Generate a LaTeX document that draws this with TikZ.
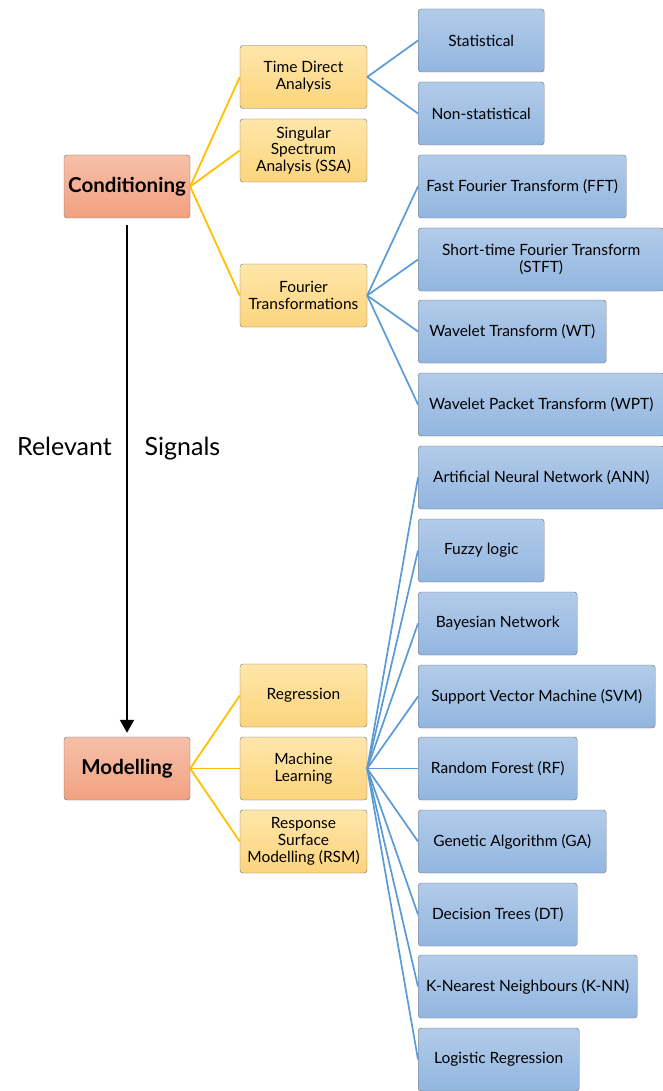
\documentclass[tikz,border=0pt]{standalone}
\usepackage{fontspec}
\setmainfont{Lato}
\usetikzlibrary{arrows.meta, positioning, shadings}
\definecolor{salmonTop}{RGB}{246, 192, 168}
\definecolor{salmonBottom}{RGB}{242, 160, 128}
\definecolor{amberTop}{RGB}{254, 230, 170}
\definecolor{amberBottom}{RGB}{252, 212, 124}
\definecolor{skyTop}{RGB}{178, 203, 233}
\definecolor{skyBottom}{RGB}{146, 182, 224}
\definecolor{borderGray}{RGB}{110, 110, 110}
\definecolor{amberLine}{RGB}{255, 192, 0}
\definecolor{skyLine}{RGB}{91, 155, 213}
\begin{document}
\begin{tikzpicture}[
    x=1pt, y=-1pt,
    stage/.style={
        rectangle,
        rounded corners=3pt,
        minimum width=126pt,
        minimum height=63pt,
        draw=borderGray,
        top color=salmonTop,
        bottom color=salmonBottom,
        font=\fontsize{20.5}{23}\selectfont\bfseries
    },
    method/.style={
        rectangle,
        rounded corners=3pt,
        minimum width=127pt,
        minimum height=63pt,
        inner sep=1pt,
        align=center,
        draw=borderGray,
        top color=amberTop,
        bottom color=amberBottom,
        font=\fontsize{15.5}{16.7}\selectfont
    },
    technique/.style={
        rectangle,
        rounded corners=3pt,
        anchor=west,
        minimum height=63pt,
        inner sep=1pt,
        align=center,
        draw=borderGray,
        top color=skyTop,
        bottom color=skyBottom,
        font=\fontsize{15.5}{16.7}\selectfont
    },
    amberlink/.style={draw=amberLine, line width=1.8pt},
    skylink/.style={draw=skyLine, line width=1.7pt},
    tag/.style={anchor=base, font=\fontsize{25}{28}\selectfont}
]
\useasboundingbox (0,0) rectangle (662,1091);

% Main stages
\node[stage] (cond) at (127, 186.5) {Conditioning};
\node[stage] (model) at (127, 768.5) {Modelling};

% Flow between stages
\draw[-{Triangle[length=13pt, width=14pt]}, line width=2pt, shorten <=7pt, shorten >=4pt] (cond) -- (model);
\node[tag] (relevant) at (64.5, 455) {Relevant};
\node[tag] (signals) at (182.5, 455) {Signals};

% Conditioning methods
\node[method] (tda) at (303.5, 77) {Time Direct\\Analysis};
\node[method] (ssa) at (303.5, 150.5) {Singular\\Spectrum\\Analysis (SSA)};
\node[method] (fourier) at (303.5, 295.5) {Fourier\\Transformations};

% Modelling methods
\node[method] (regr) at (303.5, 695.5) {Regression};
\node[method] (ml) at (303.5, 768.5) {Machine\\Learning};
\node[method] (rsm) at (303.5, 841.5) {Response\\Surface\\Modelling (RSM)};

% Time domain techniques
\node[technique, minimum width=126pt] (stat) at (418, 40.5) {Statistical};
\node[technique, minimum width=126pt] (nonstat) at (418, 113.5) {Non-statistical};

% Frequency domain techniques
\node[technique, minimum width=208pt] (fft) at (418, 186.5) {Fast Fourier Transform (FFT)};
\node[technique, minimum width=246pt] (stft) at (418, 259.5) {Short-time Fourier Transform\\(STFT)};
\node[technique, minimum width=188pt] (wt) at (418, 331.5) {Wavelet Transform (WT)};
\node[technique, minimum width=246pt] (wpt) at (418, 404.5) {Wavelet Packet Transform (WPT)};

% Machine learning techniques
\node[technique, minimum width=246pt] (ann) at (418, 477.5) {Artificial Neural Network (ANN)};
\node[technique, minimum width=126pt] (fuzzy) at (418, 550.5) {Fuzzy logic};
\node[technique, minimum width=159pt] (bayes) at (418, 623.5) {Bayesian Network};
\node[technique, minimum width=237pt] (svm) at (418, 696.5) {Support Vector Machine (SVM)};
\node[technique, minimum width=159pt] (rf) at (418, 768.5) {Random Forest (RF)};
\node[technique, minimum width=188pt] (ga) at (418, 841.5) {Genetic Algorithm (GA)};
\node[technique, minimum width=159pt] (dt) at (418, 914.5) {Decision Trees (DT)};
\node[technique, minimum width=219pt] (knn) at (418, 986.5) {K-Nearest Neighbours (K-NN)};
\node[technique, minimum width=161pt] (logreg) at (418, 1059.5) {Logistic Regression};

% Stage to method links
\draw[amberlink] (cond.east) -- (tda.west);
\draw[amberlink] (cond.east) -- (ssa.west);
\draw[amberlink] (cond.east) -- (fourier.west);
\draw[amberlink] (model.east) -- (regr.west);
\draw[amberlink] (model.east) -- (ml.west);
\draw[amberlink] (model.east) -- (rsm.west);

% Method to technique links
\draw[skylink] (tda.east) -- (stat.west);
\draw[skylink] (tda.east) -- (nonstat.west);
\draw[skylink] (fourier.east) -- (fft.west);
\draw[skylink] (fourier.east) -- (stft.west);
\draw[skylink] (fourier.east) -- (wt.west);
\draw[skylink] (fourier.east) -- (wpt.west);
\draw[skylink] (ml.east) -- (ann.west);
\draw[skylink] (ml.east) -- (fuzzy.west);
\draw[skylink] (ml.east) -- (bayes.west);
\draw[skylink] (ml.east) -- (svm.west);
\draw[skylink] (ml.east) -- (rf.west);
\draw[skylink] (ml.east) -- (ga.west);
\draw[skylink] (ml.east) -- (dt.west);
\draw[skylink] (ml.east) -- (knn.west);
\draw[skylink] (ml.east) -- (logreg.west);

\end{tikzpicture}
\end{document}
